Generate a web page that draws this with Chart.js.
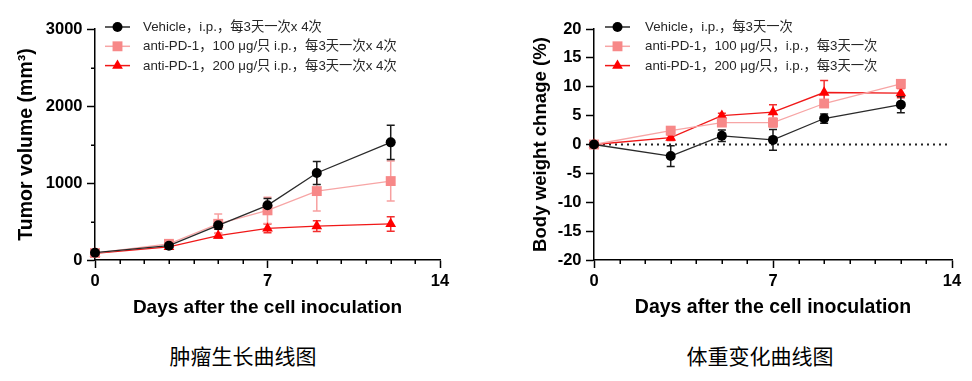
<!DOCTYPE html>
<html><head><meta charset="utf-8">
<script src="https://cdn.jsdelivr.net/npm/chart.js@4.4.0/dist/chart.umd.min.js"></script>
<style>
html,body{margin:0;padding:0;background:#fff;width:972px;height:381px;overflow:hidden;}
.wrap{position:absolute;top:0;width:486px;height:330px;}
.cap{position:absolute;top:342px;height:26px;line-height:26px;font-size:21px;font-family:"Noto Sans CJK SC",sans-serif;color:#000;transform:translateX(-50%);white-space:nowrap;}
</style></head><body>
<div class="wrap" style="left:0"><canvas id="c1" width="486" height="330"></canvas></div>
<div class="wrap" style="left:486px"><canvas id="c2" width="486" height="330"></canvas></div>
<div class="cap" style="left:243px">肿瘤生长曲线图</div>
<div class="cap" style="left:760px">体重变化曲线图</div>
<script>
// ---- data ----
const days = [0, 3, 5, 7, 9, 12];
const xTicks = [0, 7, 14];

const tumorLabels = [
  'Vehicle，i.p.，每3天一次x 4次',
  'anti-PD-1，100 μg/只 i.p.，每3天一次x 4次',
  'anti-PD-1，200 μg/只 i.p.，每3天一次x 4次'
];
const tumorVehicle    = [95, 186, 450, 710, 1130, 1528];
const tumorVehicleErr = [15, 20, 50, 90, 150, 222];
const tumor100        = [90, 210, 470, 645, 895, 1025];
const tumor100Err     = [10, 25, 127, 170, 260, 260];
const tumor200        = [85, 170, 316, 411, 441, 468];
const tumor200Err     = [10, 15, 30, 57, 70, 95];
const tumorYTicks = [0, 1000, 2000, 3000];

const bwLabels = [
  'Vehicle，i.p.，每3天一次',
  'anti-PD-1，100 μg/只，i.p.，每3天一次',
  'anti-PD-1，200 μg/只，i.p.，每3天一次'
];
const bwVehicle    = [0, -2.0, 1.5, 0.8, 4.5, 6.9];
const bwVehicleErr = [0.2, 1.8, 1.0, 1.8, 0.8, 1.4];
const bw100        = [0, 2.4, 3.8, 3.8, 7.1, 10.5];
const bw100Err     = [0.2, 0.5, 0.6, 0.8, 0.5, 0.6];
const bw200        = [0, 1.2, 5.0, 5.6, 9.0, 8.9];
const bw200Err     = [0.2, 0.5, 0.4, 1.3, 2.1, 0.8];
const bwYTicks = [-20, -15, -10, -5, 0, 5, 10, 15, 20];

// ---- styles ----
const FONT = '"Liberation Sans", Arial, "Noto Sans CJK SC", sans-serif';
const STY = [
  {line:'#2a2a2a', point:'#000000', err:'#1a1a1a', style:'circle',   r:5},
  {line:'#F7A5A5', point:'#F78888', err:'#F7A0A0', style:'rect',     r:7},
  {line:'#F01818', point:'#FF0000', err:'#F23030', style:'triangle', r:6.2}
];

function pts(vals){ return days.map((d,i)=>({x:d, y:vals[i]})); }
function mkDatasets(labels, vals, errs){
  return vals.map((v,i)=>({
    label: labels[i], data: pts(v), err: errs[i],
    borderColor: STY[i].line, borderWidth: 1.3,
    pointBackgroundColor: STY[i].point, pointBorderColor: STY[i].point,
    pointStyle: STY[i].style, pointRadius: STY[i].r, pointBorderWidth: 0,
    errColor: STY[i].err, tension: 0, clip: false
  }));
}

function drawMarker(ctx, style, r, x, y, color){
  ctx.save(); ctx.fillStyle = color; ctx.beginPath();
  if(style==='circle'){ ctx.arc(x,y,r,0,Math.PI*2); }
  else if(style==='rect'){ const s=r*Math.SQRT1_2; ctx.rect(x-s,y-s,2*s,2*s); }
  else { ctx.moveTo(x, y-r); ctx.lineTo(x+r*Math.sin(Math.PI/3), y+r*0.5); ctx.lineTo(x-r*Math.sin(Math.PI/3), y+r*0.5); ctx.closePath(); }
  ctx.fill(); ctx.restore();
}

const errorBars = {
  id:'errorBars',
  beforeDatasetsDraw(chart){
    const {ctx, scales:{x,y}} = chart;
    const ds = chart.data.datasets;
    for(let i=ds.length-1;i>=0;i--){
      const d = ds[i]; if(!d.err) continue;
      ctx.save(); ctx.strokeStyle = d.errColor; ctx.lineWidth = 1.5;
      d.data.forEach((p,j)=>{
        const e = d.err[j]; const px = x.getPixelForValue(p.x);
        const yt = y.getPixelForValue(p.y+e), yb = y.getPixelForValue(p.y-e);
        ctx.beginPath();
        ctx.moveTo(px,yt); ctx.lineTo(px,yb);
        ctx.moveTo(px-4,yt); ctx.lineTo(px+4,yt);
        ctx.moveTo(px-4,yb); ctx.lineTo(px+4,yb);
        ctx.stroke();
      });
      ctx.restore();
    }
  }
};

const zeroLine = {
  id:'zeroLine',
  beforeDatasetsDraw(chart, args, opts){
    if(!opts || !opts.show) return;
    const {ctx, scales:{x,y}} = chart;
    const py = y.getPixelForValue(0);
    ctx.save(); ctx.strokeStyle='#222'; ctx.lineWidth=2; ctx.setLineDash([2,4]);
    ctx.beginPath(); ctx.moveTo(x.getPixelForValue(0)+3, py); ctx.lineTo(x.getPixelForValue(14)-4, py); ctx.stroke();
    ctx.restore();
  }
};

const minorTicks = {
  id:'minorTicks',
  afterDraw(chart, args, opts){
    const {ctx, scales:{x,y}, chartArea:a} = chart;
    ctx.save(); ctx.strokeStyle='#000'; ctx.lineWidth=1.5;
    ctx.beginPath();
    for(let v=1; v<14; v++){ if(v%7===0) continue; const px=Math.round(x.getPixelForValue(v))+0.25; ctx.moveTo(px,a.bottom); ctx.lineTo(px,a.bottom+4); }
    (opts.yMinor||[]).forEach(v=>{ const py=Math.round(y.getPixelForValue(v))+0.25; ctx.moveTo(a.left,py); ctx.lineTo(a.left-4,py); });
    ctx.stroke(); ctx.restore();
  }
};

const legendPlug = {
  id:'legendPlug',
  afterDraw(chart, args, o){
    const ctx = chart.ctx;
    chart.data.datasets.forEach((d,i)=>{
      const yy = o.y0 + i*o.dy;
      ctx.save();
      ctx.strokeStyle = d.borderColor; ctx.lineWidth = 1.5;
      ctx.beginPath(); ctx.moveTo(o.x0, yy); ctx.lineTo(o.x0+o.len, yy); ctx.stroke();
      drawMarker(ctx, d.pointStyle, d.pointRadius, o.x0+o.len/2, yy, d.pointBackgroundColor);
      ctx.fillStyle = '#262626'; ctx.font = o.font; ctx.textBaseline='middle'; ctx.textAlign='left';
      ctx.fillText(d.label, o.tx, yy+0.5);
      ctx.restore();
    });
  }
};

function makeChart(id, cfg){
  const tickFont = {family:FONT, size:16.5, weight:'bold'};
  return new Chart(document.getElementById(id), {
    type:'line',
    data:{datasets: cfg.datasets},
    plugins:[errorBars, zeroLine, minorTicks, legendPlug],
    options:{
      responsive:false, animation:false, devicePixelRatio:1,
      layout:{padding:{left:0, top:29, right:cfg.padRight, bottom:0}},
      plugins:{
        legend:{display:false}, tooltip:{enabled:false},
        zeroLine:{show: cfg.zero},
        minorTicks:{yMinor: cfg.yMinor},
        legendPlug: cfg.legend
      },
      scales:{
        x:{type:'linear', min:0, max:14,
           afterBuildTicks(s){ s.ticks = xTicks.map(v=>({value:v})); },
           ticks:{font:tickFont, color:'#000', padding:4, maxRotation:0, autoSkip:false, callback:v=>String(v)},
           grid:{drawOnChartArea:false, drawTicks:true, tickLength:8, tickColor:'#000', tickWidth:1.5},
           border:{color:'#000', width:1.5},
           title:{display:true, text:'Days after the cell inoculation', color:'#000',
                  font:{family:FONT, size:cfg.xTitleSize, weight:'bold'}, padding:{top:0, bottom:cfg.xTitlePad}},
           afterFit(s){ s.height = 70; }
        },
        y:{type:'linear', min:cfg.yMin, max:cfg.yMax,
           afterBuildTicks(s){ s.ticks = cfg.yTicks.map(v=>({value:v})); },
           ticks:{font:tickFont, color:'#000', padding:4.5, autoSkip:false, callback:v=>String(v)},
           grid:{drawOnChartArea:false, drawTicks:true, tickLength:8, tickColor:'#000', tickWidth:1.5},
           border:{color:'#000', width:1.5},
           title:{display:true, text:cfg.yTitle, color:'#000',
                  font:{family:FONT, size:cfg.yTitleSize, weight:'bold'}, padding:{top:cfg.yTitlePad, bottom:0}},
           afterFit(s){ s.width = cfg.yWidth; }
        }
      }
    }
  });
}

makeChart('c1', {
  datasets: mkDatasets(tumorLabels, [tumorVehicle, tumor100, tumor200], [tumorVehicleErr, tumor100Err, tumor200Err]),
  padRight: 46, yWidth: 95, yMin:0, yMax:3000, yTicks: tumorYTicks, yMinor:[500,1500,2500],
  yTitle:'Tumor volume (mm³)', yTitleSize:19.5, yTitlePad:15, xTitleSize:19, xTitlePad:10.5, zero:false,
  legend:{x0:105, len:25, tx:143, y0:27, dy:19.3, font:'13.3px '+FONT}
});
makeChart('c2', {
  datasets: mkDatasets(bwLabels, [bwVehicle, bw100, bw200], [bwVehicleErr, bw100Err, bw200Err]),
  padRight: 20, yWidth: 108, yMin:-20, yMax:20, yTicks: bwYTicks, yMinor:[],
  yTitle:'Body weight chnage (%)', yTitleSize:18.6, yTitlePad:44, xTitleSize:19.5, xTitlePad:10.5, zero:true,
  legend:{x0:119, len:25, tx:159, y0:27, dy:19.3, font:'13.3px '+FONT}
});
</script>
</body></html>
